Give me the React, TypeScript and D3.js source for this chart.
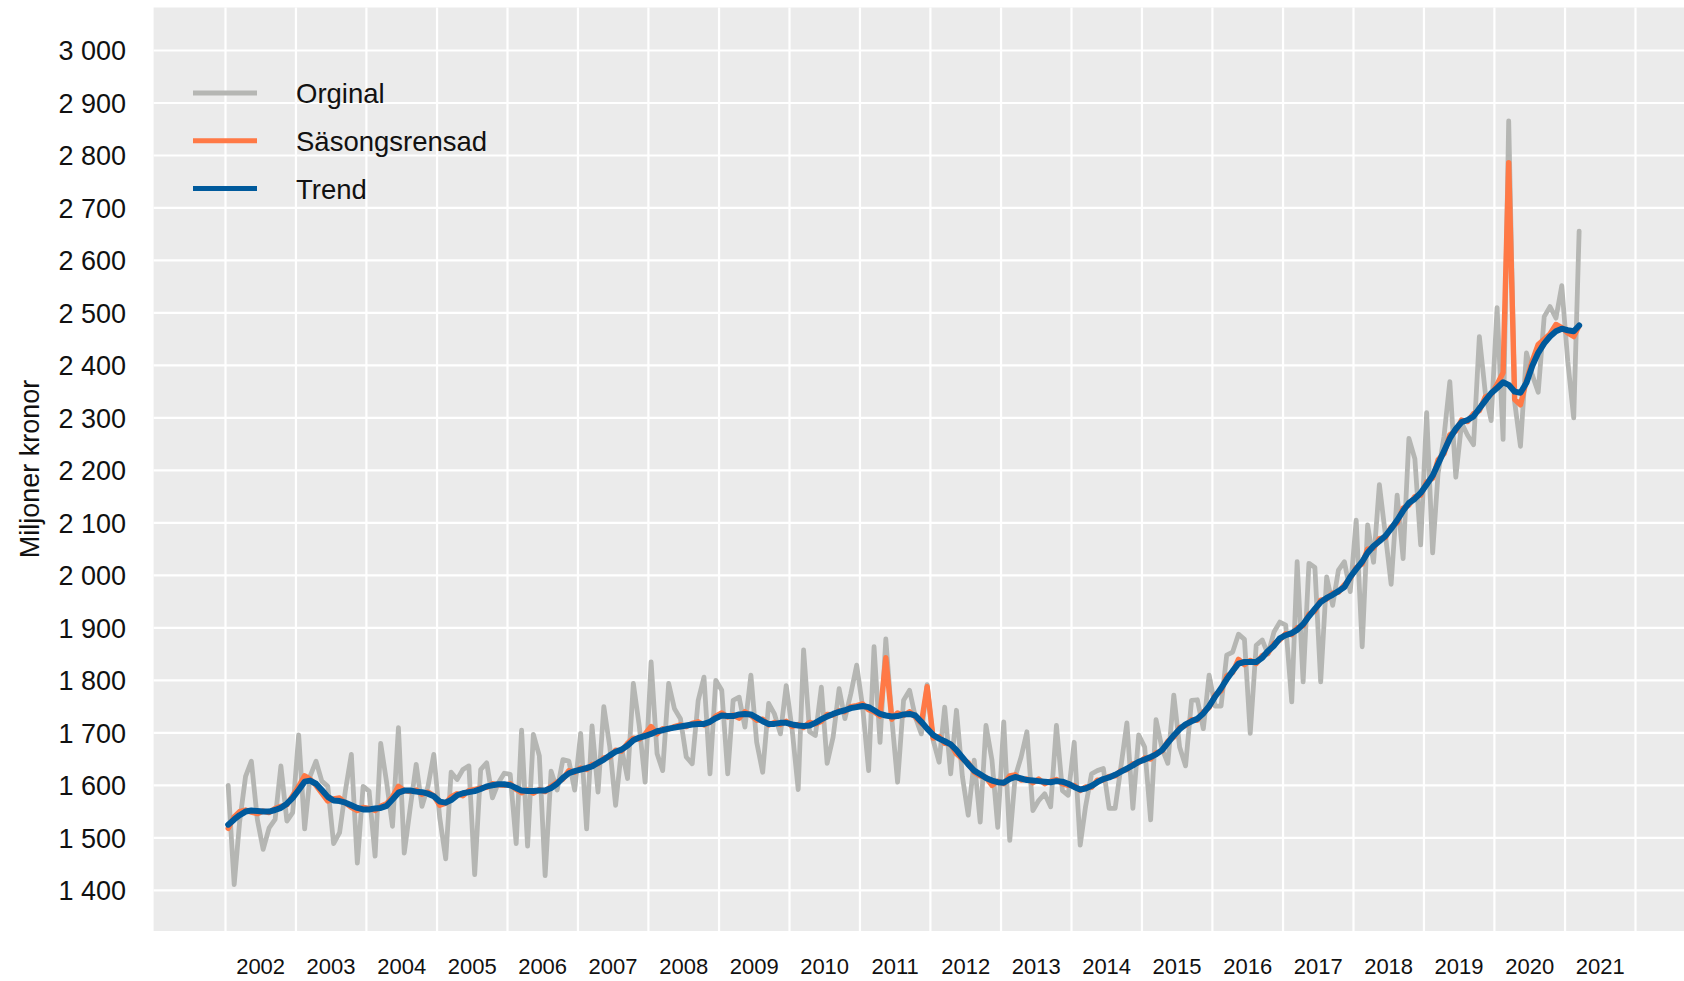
import React from 'react'
import * as d3 from 'd3'

// monthly series, Jan 2002 .. Mar 2021 (miljoner kronor)
const startYear = 2002
const original = [
    1600, 1411, 1530, 1617, 1646, 1535, 1478, 1519, 1535, 1637, 1532, 1548, // 2002
    1696, 1517, 1617, 1646, 1608, 1598, 1489, 1510, 1592, 1659, 1452, 1598, // 2003
    1589, 1465, 1680, 1605, 1522, 1710, 1471, 1557, 1640, 1560, 1598, 1659, // 2004
    1538, 1460, 1625, 1611, 1630, 1637, 1430, 1630, 1643, 1576, 1605, 1623, // 2005
    1621, 1489, 1705, 1484, 1697, 1656, 1428, 1627, 1591, 1649, 1646, 1591, // 2006
    1699, 1517, 1713, 1587, 1750, 1673, 1562, 1670, 1613, 1794, 1712, 1606, // 2007
    1835, 1660, 1628, 1794, 1746, 1727, 1654, 1641, 1762, 1806, 1622, 1800, // 2008
    1781, 1622, 1762, 1768, 1711, 1810, 1682, 1625, 1756, 1736, 1698, 1790, // 2009
    1705, 1592, 1858, 1702, 1695, 1787, 1642, 1692, 1784, 1727, 1775, 1829, // 2010
    1749, 1628, 1864, 1682, 1879, 1727, 1606, 1762, 1781, 1730, 1698, 1792, // 2011
    1686, 1644, 1749, 1622, 1743, 1616, 1543, 1648, 1530, 1714, 1648, 1520, // 2012
    1721, 1495, 1616, 1654, 1702, 1552, 1571, 1584, 1559, 1714, 1590, 1581, // 2013
    1682, 1486, 1560, 1622, 1628, 1632, 1556, 1556, 1638, 1719, 1556, 1696, // 2014
    1673, 1534, 1725, 1670, 1642, 1772, 1673, 1637, 1762, 1763, 1708, 1810, // 2015
    1751, 1751, 1848, 1854, 1888, 1878, 1699, 1867, 1877, 1850, 1892, 1911, // 2016
    1905, 1759, 2026, 1797, 2023, 2015, 1797, 1997, 1943, 2010, 2026, 1969, // 2017
    2105, 1864, 2096, 2025, 2173, 2078, 1983, 2153, 2032, 2261, 2222, 2058, // 2018
    2310, 2043, 2194, 2265, 2369, 2187, 2290, 2267, 2249, 2455, 2347, 2295, // 2019
    2510, 2259, 2866, 2330, 2246, 2424, 2382, 2349, 2493, 2512, 2490, 2552, // 2020
    2408, 2300, 2656 // 2021
]

const seasonal = [
    1518, 1540, 1550, 1553, 1549, 1546, 1551, 1548, 1556, 1560, 1563, 1580,
    1598, 1618, 1612, 1600, 1585, 1570, 1574, 1576, 1566, 1558, 1552, 1558,
    1556, 1552, 1560, 1565, 1578, 1598, 1590, 1588, 1591, 1583, 1587, 1580,
    1562, 1566, 1578, 1584, 1580, 1590, 1592, 1595, 1596, 1603, 1601, 1600,
    1603, 1592, 1586, 1591, 1585, 1592, 1588, 1598, 1606, 1612, 1628, 1625,
    1633, 1630, 1640, 1641, 1652, 1654, 1667, 1665, 1680, 1690, 1688, 1698,
    1712, 1698, 1708, 1707, 1712, 1715, 1712, 1718, 1721, 1715, 1720, 1732,
    1738, 1730, 1734, 1728, 1740, 1733, 1724, 1726, 1715, 1720, 1716, 1722,
    1712, 1716, 1710, 1720, 1717, 1722, 1735, 1734, 1742, 1740, 1750, 1752,
    1755, 1744, 1740, 1732, 1843, 1726, 1738, 1733, 1740, 1730, 1718, 1788,
    1690, 1693, 1680, 1679, 1660, 1650, 1643, 1625, 1618, 1615, 1600, 1608,
    1603, 1618, 1620, 1610, 1612, 1605, 1612, 1603, 1608, 1611, 1603, 1600,
    1600, 1590, 1597, 1596, 1610, 1610, 1617, 1618, 1628, 1630, 1641, 1643,
    1652, 1650, 1662, 1665, 1684, 1692, 1710, 1714, 1725, 1724, 1740, 1748,
    1772, 1780, 1808, 1815, 1840, 1830, 1838, 1832, 1847, 1852, 1870, 1877,
    1889, 1887, 1900, 1904, 1926, 1932, 1953, 1955, 1966, 1968, 1982, 1994,
    2015, 2022, 2050, 2052, 2070, 2072, 2092, 2100, 2128, 2134, 2150, 2153,
    2178, 2185, 2220, 2232, 2268, 2275, 2296, 2293, 2308, 2314, 2340, 2345,
    2364, 2386, 2786, 2335, 2325, 2372, 2408, 2440, 2450, 2460, 2478, 2472,
    2462, 2455, 2476
]

const trend = [
    1525, 1535, 1543, 1550, 1552, 1551, 1550, 1550, 1553, 1557, 1565, 1576,
    1591, 1607, 1609, 1603, 1591, 1578, 1571, 1570, 1567, 1562, 1557, 1554,
    1554, 1556, 1557, 1561, 1573, 1586, 1590, 1590, 1588, 1587, 1584, 1579,
    1569, 1567, 1572, 1581, 1585, 1587, 1589, 1593, 1598, 1600, 1602, 1602,
    1600, 1595, 1590, 1589, 1589, 1590, 1590, 1595, 1603, 1614, 1623, 1627,
    1630, 1633, 1636, 1643, 1649, 1657, 1664, 1668, 1676, 1686, 1691, 1694,
    1698, 1703, 1705, 1708, 1710, 1712, 1714, 1716, 1717, 1717, 1721, 1728,
    1733, 1732, 1732, 1735, 1736, 1735, 1729, 1722, 1717, 1717, 1719, 1719,
    1716, 1714, 1713, 1714, 1719, 1726, 1731, 1736, 1740, 1743, 1747, 1749,
    1751, 1749, 1743, 1736, 1733, 1731, 1732, 1735, 1736, 1733, 1721, 1708,
    1696, 1689, 1684, 1678, 1667, 1653, 1640, 1628, 1621, 1614, 1609, 1606,
    1605, 1612, 1616, 1613, 1610, 1609, 1608, 1607, 1606, 1608, 1607, 1603,
    1597, 1592, 1594, 1599, 1606, 1612, 1615, 1620, 1626, 1632, 1638, 1645,
    1649, 1654, 1659, 1667, 1681, 1695, 1707, 1716, 1722, 1727, 1737, 1751,
    1769, 1785, 1802, 1818, 1832, 1835, 1835, 1835, 1843, 1856, 1866, 1880,
    1886, 1890, 1896, 1907, 1922, 1936, 1949, 1957, 1963, 1970, 1978, 1997,
    2012, 2026, 2043, 2056, 2065, 2075, 2089, 2105, 2123, 2138, 2146, 2157,
    2173, 2190, 2212, 2237, 2261, 2279, 2292, 2296, 2303, 2318, 2333, 2347,
    2357, 2368, 2363, 2350, 2348, 2367, 2399, 2424, 2442, 2455, 2465, 2470,
    2467, 2465, 2476
]

const yearLabels = ['2002', '2003', '2004', '2005', '2006', '2007', '2008', '2009', '2010', '2011',
    '2012', '2013', '2014', '2015', '2016', '2017', '2018', '2019', '2020', '2021']
const yTicks = [1400, 1500, 1600, 1700, 1800, 1900, 2000, 2100, 2200, 2300, 2400, 2500, 2600, 2700, 2800, 2900, 3000]

const seriesNames = ['Orginal', 'Säsongsrensad', 'Trend']
const seriesColors = ['#b5b6b3', '#ff7946', '#005a9c']
const seriesWidths = [4.8, 5.4, 6]

const width = 1684
const height = 981
const font = '"Liberation Sans", Arial, sans-serif'

export default function App() {
    const panel = { left: 153.6, right: 1684, top: 7.5, bottom: 931 }

    const x = d3.scaleTime()
        .domain([new Date(2002, 0, 1), new Date(2022, 0, 1)])
        .range([225.5, 1635.5])
    const y = d3.scaleLinear()
        .domain([1400, 3000])
        .range([890.3, 50.5])

    const dates = original.map((_, i) => new Date(startYear + Math.floor(i / 12), i % 12, 15))

    const line = d3.line<number>()
        .x((_, i) => x(dates[i]))
        .y((d) => y(d))

    const gridYears = d3.range(2002, 2023)
    const fmt = (v: number) => d3.format(',')(v).replace(',', ' ')

    const series = [original, seasonal, trend]

    return (
        <svg width={width} height={height} style={{ position: 'absolute', left: 0, top: 0 }}
            fontFamily={font}>
            <rect x={0} y={0} width={width} height={height} fill="#ffffff" />
            <rect x={panel.left} y={panel.top} width={panel.right - panel.left}
                height={panel.bottom - panel.top} fill="#ebebeb" />

            {/* grid */}
            {yTicks.map((t) => (
                <line key={'gy' + t} x1={panel.left} x2={panel.right} y1={y(t)} y2={y(t)}
                    stroke="#ffffff" strokeWidth={2.2} />
            ))}
            {gridYears.map((yr) => (
                <line key={'gx' + yr} x1={x(new Date(yr, 0, 1))} x2={x(new Date(yr, 0, 1))}
                    y1={panel.top} y2={panel.bottom} stroke="#ffffff" strokeWidth={2.2} />
            ))}

            {/* series */}
            {series.map((s, i) => (
                <path key={'s' + i} d={line(s) || ''} fill="none" stroke={seriesColors[i]}
                    strokeWidth={seriesWidths[i]} strokeLinejoin="round" strokeLinecap="round" />
            ))}

            {/* y axis */}
            {yTicks.map((t) => (
                <text key={'ty' + t} x={126} y={y(t)} dy="0.36em" textAnchor="end"
                    fontSize={27} fill="#111">{fmt(t)}</text>
            ))}
            <text transform="translate(29,469) rotate(-90)" dy="0.36em" textAnchor="middle"
                fontSize={27} fill="#111">Miljoner kronor</text>

            {/* x axis */}
            {yearLabels.map((lab) => (
                <text key={'tx' + lab} x={x(new Date(+lab, 6, 2))} y={966} dy="0.36em"
                    textAnchor="middle" fontSize={22} fill="#111">{lab}</text>
            ))}

            {/* legend */}
            {seriesNames.map((name, i) => (
                <g key={'lg' + name} transform={`translate(0,${93 + i * 47.8})`}>
                    <line x1={193} x2={257} y1={0} y2={0} stroke={seriesColors[i]} strokeWidth={5} />
                    <text x={296} y={0} dy="0.36em" fontSize={27.5} fill="#111">{name}</text>
                </g>
            ))}
        </svg>
    )
}
